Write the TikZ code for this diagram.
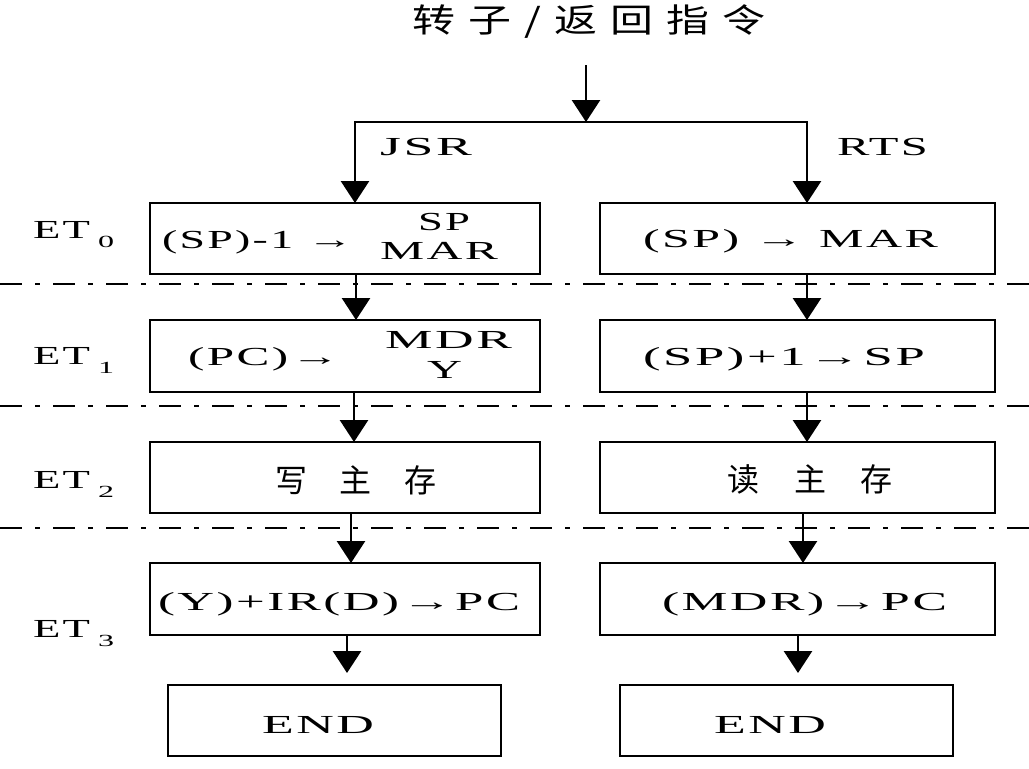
\documentclass[tikz,border=0pt]{standalone}
\usepackage{fontspec}
\usepackage{graphicx}
\usetikzlibrary{arrows.meta}
\newfontfamily\lat[LetterSpace=5]{Liberation Serif}
\newfontfamily\cjk{Noto Sans CJK SC}
\newcommand\tw[2]{\resizebox{#1pt}{\height}{#2}}
\newcommand\cw[2]{\makebox[#1pt][s]{#2}}
\newcommand\etl[1]{\tw{57}{ET}\hspace{8pt}\raisebox{-9pt}{\fontsize{17}{17}\selectfont\tw{16}{#1}}}
\begin{document}
\begin{tikzpicture}[x=1pt,y=-1pt,
  box/.style={draw, line width=2.6pt, inner sep=0pt, outer sep=0pt},
  txt/.style={inner sep=0pt, outer sep=0pt, anchor=base west, font=\lat\fontsize{26}{30}\selectfont},
  ctxt/.style={inner sep=0pt, outer sep=0pt, font=\cjk\fontsize{32}{36}\selectfont},
  arr/.style={line width=2.8pt, -{Triangle[width=28pt,length=22pt]}},
  sep/.style={line width=2.4pt, dash pattern=on 22pt off 13pt on 5pt off 13pt},
  thinline/.style={line width=2pt}]
\useasboundingbox (0,0) rectangle (1029,769);
\fill[white] (0,0) rectangle (1029,769);

% title
\node[ctxt, font=\cjk\fontsize{33}{36}\selectfont] (title) at (589,22) {\resizebox{352pt}{\height}{\addfontfeature{LetterSpace=30}转子/返回指令}};

% separators
\coordinate (s1a) at (0,284);   \coordinate (s1b) at (1029,284);
\coordinate (s2a) at (0,406);   \coordinate (s2b) at (1029,406);
\coordinate (s3a) at (0,528);   \coordinate (s3b) at (1029,528);
\draw[sep] (s1a) -- (s1b);
\draw[sep] (s2a) -- (s2b);
\draw[sep] (s3a) -- (s3b);

% boxes
\node[box, minimum width=390pt, minimum height=71pt] (L0) at (345,238.5) {};
\node[box, minimum width=395pt, minimum height=71pt] (R0) at (797.5,238.5) {};
\node[box, minimum width=390pt, minimum height=72pt] (L1) at (345,356) {};
\node[box, minimum width=395pt, minimum height=72pt] (R1) at (797.5,356) {};
\node[box, minimum width=390pt, minimum height=71pt] (L2) at (345,477.5) {};
\node[box, minimum width=395pt, minimum height=71pt] (R2) at (797.5,477.5) {};
\node[box, minimum width=390pt, minimum height=72pt] (L3) at (345,599) {};
\node[box, minimum width=395pt, minimum height=72pt] (R3) at (797.5,599) {};
\node[box, minimum width=333pt, minimum height=71pt] (LE) at (334.5,720.5) {};
\node[box, minimum width=333pt, minimum height=71pt] (RE) at (786.5,720.5) {};

% texts in boxes
\node[txt] (l0a) at (162,248) {\tw{191}{(SP)-1 →}};
\node[txt] (l0b) at (418,230) {\tw{52}{SP}};
\node[txt] (l0c) at (380,259) {\tw{118}{MAR}};
\node[txt] (r0)  at (643,247) {\tw{295}{(SP) → MAR}};
\node[txt] (l1a) at (188,365) {\tw{152}{(PC)→}};
\node[txt] (l1b) at (385,348) {\tw{127}{MDR}};
\node[txt] (l1c) at (427,378) {\tw{35}{Y}};
\node[txt] (r1)  at (643,365) {\tw{282}{(SP)+1→SP}};
\node[ctxt] (l2) at (356,480) {\cw{161}{写\hfil 主\hfil 存}};
\node[ctxt] (r2) at (810,479) {\cw{165}{读\hfil 主\hfil 存}};
\node[txt] (l3)  at (158,610) {\tw{362}{(Y)+IR(D)→PC}};
\node[txt] (r3)  at (662,610) {\tw{285}{(MDR)→PC}};
\node[txt] (le)  at (262,733) {\tw{112}{END}};
\node[txt] (re)  at (714,733) {\tw{112}{END}};

% stage labels
\node[txt] (et0) at (33,238) {\etl{0}};
\node[txt] (et1) at (33,364) {\etl{1}};
\node[txt] (et2) at (33,488) {\etl{2}};
\node[txt] (et3) at (33,637) {\etl{3}};

% branch labels
\node[txt] (jsr) at (380,155) {\tw{92}{JSR}};
\node[txt] (rts) at (837,155) {\tw{91}{RTS}};

% top connectors
\coordinate (t0) at (586,65);
\coordinate (split) at (586,122);
\coordinate (bl) at (355,122);
\coordinate (br) at (807,122);
\draw[arr] (t0) -- (split);
\draw[thinline] (bl) -- (br);
\draw[arr] ([yshift=1pt]bl) -- (L0.north -| bl);
\draw[arr] ([yshift=1pt]br) -- (R0.north -| br);

% column connectors
\coordinate (xl1) at (356,0); \coordinate (xr1) at (807,0);
\coordinate (xl2) at (354,0); \coordinate (xr2) at (807,0);
\coordinate (xl3) at (351,0); \coordinate (xr3) at (803,0);
\coordinate (xl4) at (347,0); \coordinate (xr4) at (798,0);
\draw[arr] (L0.south -| xl1) -- (L1.north -| xl1);
\draw[arr] (R0.south -| xr1) -- (R1.north -| xr1);
\draw[arr] (L1.south -| xl2) -- (L2.north -| xl2);
\draw[arr] (R1.south -| xr2) -- (R2.north -| xr2);
\draw[arr] (L2.south -| xl3) -- (L3.north -| xl3);
\draw[arr] (R2.south -| xr3) -- (R3.north -| xr3);
\draw[arr, shorten >=12pt] (L3.south -| xl4) -- (LE.north -| xl4);
\draw[arr, shorten >=12pt] (R3.south -| xr4) -- (RE.north -| xr4);
\end{tikzpicture}
\end{document}
